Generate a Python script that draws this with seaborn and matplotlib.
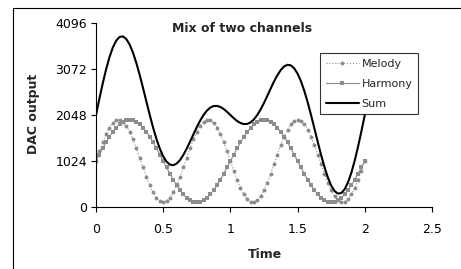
import numpy as np
import pandas as pd
import matplotlib
matplotlib.use("Agg")
import matplotlib.pyplot as plt
import seaborn as sns
from matplotlib.patches import Rectangle

sns.set_theme(style="white")
plt.rcParams['font.family'] = ['DejaVu Sans']

# time axis, 81 samples from 0 to 2
time = [round(0.025 * i, 3) for i in range(81)]

# values (DAC counts)
melody = [1024, 1239, 1442, 1621, 1768, 1874, 1933, 1941, 1899, 1808,
          1675, 1505, 1308, 1096, 880, 672, 483, 324, 204, 129,
          104, 129, 204, 324, 483, 672, 880, 1096, 1308, 1505,
          1675, 1808, 1899, 1941, 1933, 1874, 1768, 1621, 1442, 1239,
          1024, 809, 606, 427, 280, 174, 115, 107, 149, 240,
          373, 543, 740, 952, 1168, 1376, 1565, 1724, 1844, 1919,
          1944, 1919, 1844, 1724, 1565, 1376, 1168, 952, 740, 543,
          373, 240, 149, 107, 115, 174, 280, 427, 606, 809,
          1024]
harmony = [1024, 1168, 1308, 1442, 1565, 1675, 1768, 1844, 1899, 1933,
           1944, 1933, 1899, 1844, 1768, 1675, 1565, 1442, 1308, 1168,
           1024, 880, 740, 606, 483, 373, 280, 204, 149, 115,
           104, 115, 149, 204, 280, 373, 483, 606, 740, 880,
           1024, 1168, 1308, 1442, 1565, 1675, 1768, 1844, 1899, 1933,
           1944, 1933, 1899, 1844, 1768, 1675, 1565, 1442, 1308, 1168,
           1024, 880, 740, 606, 483, 373, 280, 204, 149, 115,
           104, 115, 149, 204, 280, 373, 483, 606, 740, 880,
           1024]
total = [2048, 2407, 2750, 3063, 3333, 3549, 3701, 3785, 3798, 3741,
         3619, 3438, 3207, 2940, 2648, 2347, 2048, 1766, 1512, 1297,
         1128, 1009, 944, 930, 966, 1045, 1160, 1300, 1457, 1620,
         1779, 1923, 2048, 2145, 2213, 2247, 2251, 2227, 2182, 2119,
         2048, 1977, 1914, 1869, 1845, 1849, 1883, 1951, 2048, 2173,
         2317, 2476, 2639, 2796, 2936, 3051, 3130, 3166, 3152, 3087,
         2968, 2799, 2584, 2330, 2048, 1749, 1448, 1156, 889, 658,
         477, 355, 298, 311, 395, 547, 763, 1033, 1346, 1689,
         2048]

y_ticks = [0, 1024, 2048, 3072, 4096]
x_ticks = [0, 0.5, 1, 1.5, 2, 2.5]
x_tick_labels = ['0', '0.5', '1', '1.5', '2', '2.5']

df = pd.DataFrame({'Time': time, 'Melody': melody, 'Harmony': harmony, 'Sum': total})

W, H = 461, 269
fig = plt.figure(figsize=(W / 100, H / 100), dpi=100)
ax = fig.add_axes([96 / W, 1 - 207 / H, 336 / W, 184 / H])

gray = '#8c8c8c'
sns.lineplot(data=df, x='Time', y='Melody', ax=ax, color=gray, linestyle=':',
             linewidth=0.8, marker='o', markersize=2.8, markeredgewidth=0,
             label='Melody')
sns.lineplot(data=df, x='Time', y='Harmony', ax=ax, color=gray, linestyle='-',
             linewidth=0.8, marker='s', markersize=3.2, markeredgewidth=0,
             label='Harmony')
sns.lineplot(data=df, x='Time', y='Sum', ax=ax, color='black', linestyle='-',
             linewidth=1.5, label='Sum')

ax.set_xlim(0, 2.5)
ax.set_ylim(0, 4096)
ax.set_xticks(x_ticks)
ax.set_xticklabels(x_tick_labels)
ax.set_yticks(y_ticks)
ax.tick_params(axis='x', direction='out', length=3.5, width=0.8, pad=8,
               labelsize=9, colors='black', bottom=True)
ax.tick_params(axis='y', direction='out', length=3.5, width=0.8, pad=3,
               labelsize=9, colors='black', left=True)
for side in ['top', 'right']:
    ax.spines[side].set_visible(False)
for side in ['left', 'bottom']:
    ax.spines[side].set_color('black')
    ax.spines[side].set_linewidth(0.8)
ax.grid(False)
ax.set_xlabel('')
ax.set_ylabel('')

fig.text(265 / W, 1 - 255 / H, 'Time', ha='center', va='center',
         fontsize=9, fontweight='bold')
fig.text(33 / W, 1 - 114 / H, 'DAC output', ha='center', va='center',
         rotation=90, fontsize=9, fontweight='bold')
fig.text(242 / W, 1 - 29 / H, 'Mix of two channels', ha='center', va='center',
         fontsize=9, fontweight='bold')

leg = ax.legend(loc='upper left', bbox_to_anchor=(320 / W, 1 - 53 / H),
                bbox_transform=fig.transFigure, fontsize=8, frameon=True,
                fancybox=False, shadow=False, handlelength=3.0,
                handletextpad=0.25, labelspacing=0.9, borderpad=0.5,
                borderaxespad=0)
leg.get_frame().set_edgecolor('black')
leg.get_frame().set_linewidth(0.8)

# outer chart frame (clipped by the image on the right and bottom)
fig.patches.append(Rectangle((13 / W, -0.1), 1.2, 1.1 - 8 / H,
                             transform=fig.transFigure, fill=False,
                             edgecolor='black', linewidth=0.8))

fig.savefig('out.png', dpi=100)
